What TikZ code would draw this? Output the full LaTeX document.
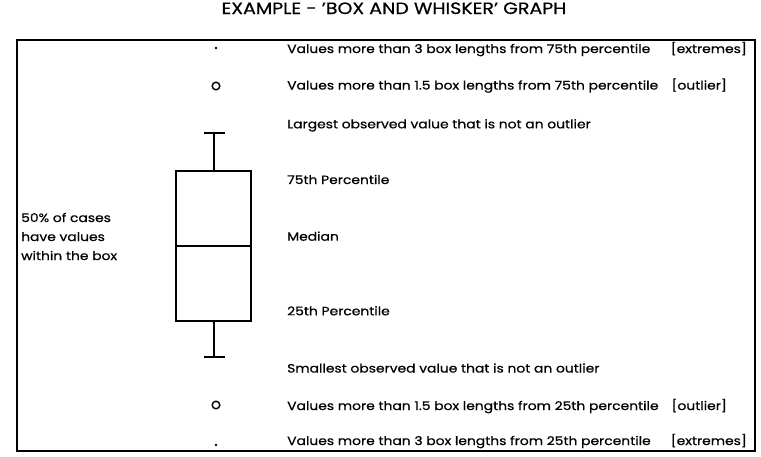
\documentclass[tikz,border=0pt]{standalone}
\usepackage{fontspec}
\setmainfont{Poppins}[FakeStretch=1.157,FakeBold=0.6]
\usetikzlibrary{positioning}

\begin{document}
\begin{tikzpicture}[
    x=1pt,
    y=-1pt,
    lbl/.style={anchor=base west,inner sep=0pt,font=\fontsize{12}{19}\selectfont},
    tag/.style={anchor=base east,inner sep=0pt,font=\fontsize{12}{19}\selectfont},
    whisk/.style={line width=1.8pt}
    ]
    \useasboundingbox (0,0) rectangle (761,456);

    % titulo
    \node[anchor=base,inner sep=0pt,font=\fontsize{16.4}{18}\selectfont] (title) at (394,14)
    {EXAMPLE - 'BOX AND WHISKER' GRAPH};

    % moldura
    \draw[line width=1.3pt] (17,40) rectangle (755,451);

    % caixa
    \draw[whisk] (176,171) rectangle (251,321);
    \draw[whisk] (176,246)--(251,246);
    \coordinate (boxtop) at (214,171);
    \coordinate (boxbot) at (214,321);
    \coordinate (captop) at (214,133);
    \coordinate (capbot) at (214,357);
    \draw[whisk] (boxtop)--(captop);
    \draw[whisk] (boxbot)--(capbot);
    \draw[whisk] (204,133)--(225,133);
    \draw[whisk] (204,357)--(225,357);

    % pontos
    \fill (216,48) circle (1.3);
    \draw[line width=1.4pt] (216,86) circle (3.8);
    \draw[line width=1.4pt] (216,405) circle (3.8);
    \fill (216,445) circle (1.3);

    % rotulos
    \node[lbl] (ext75) at (287,53)
    {Values more than 3 box lengths from 75th percentile};
    \node[tag] (ext75t) at (747,53) {[extremes]};
    \node[lbl] (out75) at (287,89.5)
    {Values more than 1.5 box lengths from 75th percentile};
    \node[tag] (out75t) at (727,89.5) {[outlier]};
    \node[lbl] (large) at (287,128.3)
    {Largest observed value that is not an outlier};
    \node[lbl] (p75) at (287,184) {75th Percentile};
    \node[lbl] (med) at (287,240.7) {Median};
    \node[lbl] (p25) at (287,315.3) {25th Percentile};
    \node[lbl] (small) at (287,372.5)
    {Smallest observed value that is not an outlier};
    \node[lbl] (out25) at (287,410)
    {Values more than 1.5 box lengths from 25th percentile};
    \node[tag] (out25t) at (727,410) {[outlier]};
    \node[lbl] (ext25) at (287,445)
    {Values more than 3 box lengths from 25th percentile};
    \node[tag] (ext25t) at (747,445) {[extremes]};

    \node[lbl,align=left] (cases) at (21,260)
    {50\% of cases\\have values\\within the box};

    \end{tikzpicture}
\end{document}
